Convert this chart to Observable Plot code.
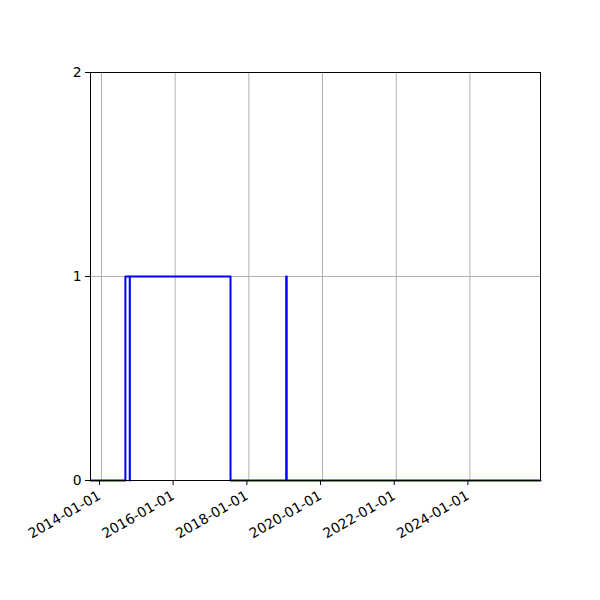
<!DOCTYPE html>
<html>
<head>
<meta charset="utf-8">
<script src="https://cdn.jsdelivr.net/npm/d3@7"></script>
<script src="https://cdn.jsdelivr.net/npm/@observablehq/plot@0.6"></script>
<style>
  body { margin: 0; background: #fff; }
  #chart svg { font-family: "DejaVu Sans", sans-serif; }
</style>
</head>
<body>
<div id="chart"></div>
<script>
// Step series (value holds from each date until the next one)
const dates = ["2013-09-14", "2014-08-26", "2014-10-08", "2014-10-09", "2017-07-03", "2019-01-06", "2019-01-11", "2025-12-01"];
const values = [0, 1, 0, 1, 0, 1, 0, 0];
const xDomain = ["2013-09-14", "2025-12-01"];
const xTicks = ["2014-01-01", "2016-01-01", "2018-01-01", "2020-01-01", "2022-01-01", "2024-01-01"];
const yTicks = [0, 1, 2];

const toDate = d => new Date(d + "T00:00:00Z");
const data = dates.map((d, i) => ({date: toDate(d), value: values[i]}));
const fmt = d3.utcFormat("%Y-%m-%d");

const chart = Plot.plot({
  width: 600,
  height: 600,
  marginLeft: 90,
  marginRight: 60,
  marginTop: 72,
  marginBottom: 120,
  style: {fontSize: "13.9px", fontFamily: "DejaVu Sans, sans-serif", background: "#fff", color: "#000"},
  x: {type: "utc", domain: xDomain.map(toDate)},
  y: {domain: [0, 2]},
  marks: [
    Plot.gridX(xTicks.map(toDate), {stroke: "#b0b0b0", strokeOpacity: 1, strokeWidth: 1}),
    Plot.gridY(yTicks, {stroke: "#b0b0b0", strokeOpacity: 1, strokeWidth: 1}),
    Plot.line(data, {x: "date", y: "value", curve: "step-after", stroke: "blue", strokeWidth: 2}),
    Plot.frame({stroke: "#000", strokeWidth: 1}),
    Plot.axisX(xTicks.map(toDate), {
      tickFormat: fmt, tickSize: 5, tickPadding: 9, tickRotate: -30, label: null, fontSize: 13.9, dx: -2
    }),
    Plot.axisY(yTicks, {tickSize: 5, tickPadding: 4, tickFormat: d3.format("d"), label: null, fontSize: 13.9})
  ]
});
document.getElementById("chart").appendChild(chart);
</script>
</body>
</html>
